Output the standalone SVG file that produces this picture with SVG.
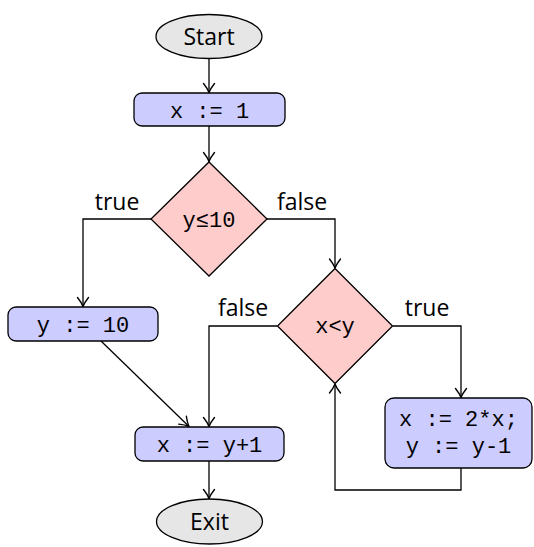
<svg xmlns="http://www.w3.org/2000/svg" width="534" height="547" viewBox="0 0 534 547">
<defs>
<marker id="arr" markerUnits="userSpaceOnUse" markerWidth="14" markerHeight="14" viewBox="-12 -7 14 14" refX="0" refY="0" orient="auto">
<path d="M-9,-5.5 Q-4,-1.5 0,0 Q-4,1.5 -9,5.5" fill="none" stroke="#000" stroke-width="1.4" stroke-linecap="round" stroke-linejoin="round"/>
</marker>
<style>
.term{fill:#e6e6e6;stroke:#000;stroke-width:1.3}
.proc{fill:#ccccff;stroke:#000;stroke-width:1.3}
.dec{fill:#ffcccc;stroke:#000;stroke-width:1.3}
.sans{font-family:"Open Sans","Liberation Sans",sans-serif;font-size:23px;fill:#000}
.mono{font-family:"Liberation Mono","DejaVu Sans Mono",monospace;font-size:22px;fill:#000}
.edge{fill:none;stroke:#000;stroke-width:1.3;marker-end:url(#arr)}
</style>
</defs>
<g id="connectors">
<line class="edge" x1="209" y1="58" x2="209" y2="92.5"/>
<line class="edge" x1="209" y1="126" x2="209" y2="161.5"/>
<polyline class="edge" points="151,219 83,219 83,306.5"/>
<polyline class="edge" points="267,219 335,219 335,268"/>
<line class="edge" x1="101" y1="341" x2="189" y2="426.5"/>
<polyline class="edge" points="277,326 209,326 209,426.5"/>
<polyline class="edge" points="393,326 461,326 461,397.5"/>
<polyline class="edge" points="461,468 461,490 335,490 335,384"/>
<line class="edge" x1="209" y1="461" x2="209" y2="498.5"/>
<text class="sans" x="117" y="210" text-anchor="middle">true</text>
<text class="sans" x="302" y="210" text-anchor="middle">false</text>
<text class="sans" x="243" y="316" text-anchor="middle">false</text>
<text class="sans" x="427" y="316" text-anchor="middle">true</text>
</g>
<g id="start">
<ellipse class="term" cx="209" cy="36.5" rx="53" ry="22"/>
<text class="sans" x="209" y="44.5" text-anchor="middle">Start</text>
</g>
<g id="assign1">
<rect class="proc" x="134" y="93" width="151" height="33" rx="8"/>
<text class="mono" x="209.5" y="117.5" text-anchor="middle">x := 1</text>
</g>
<g id="cond1">
<polygon class="dec" points="209,162 267,219 209,276 151,219"/>
<text class="mono" x="209" y="227" text-anchor="middle">y≤10</text>
</g>
<g id="assign2">
<rect class="proc" x="8" y="307" width="150" height="34" rx="8"/>
<text class="mono" x="83" y="332" text-anchor="middle">y := 10</text>
</g>
<g id="cond2">
<polygon class="dec" points="335,268.5 392.5,326 335,383.5 277.5,326"/>
<text class="mono" x="335" y="333" text-anchor="middle">x&lt;y</text>
</g>
<g id="loopbody">
<rect class="proc" x="385" y="398" width="147" height="70" rx="9"/>
<text class="mono" x="458.5" y="426" text-anchor="middle">x := 2*x;</text>
<text class="mono" x="458.5" y="453" text-anchor="middle">y := y-1</text>
</g>
<g id="assign3">
<rect class="proc" x="135" y="427" width="149" height="34" rx="8"/>
<text class="mono" x="209.5" y="451.5" text-anchor="middle">x := y+1</text>
</g>
<g id="exit">
<ellipse class="term" cx="209.5" cy="521.5" rx="53" ry="22.5"/>
<text class="sans" x="209.5" y="529.5" text-anchor="middle">Exit</text>
</g>
</svg>
